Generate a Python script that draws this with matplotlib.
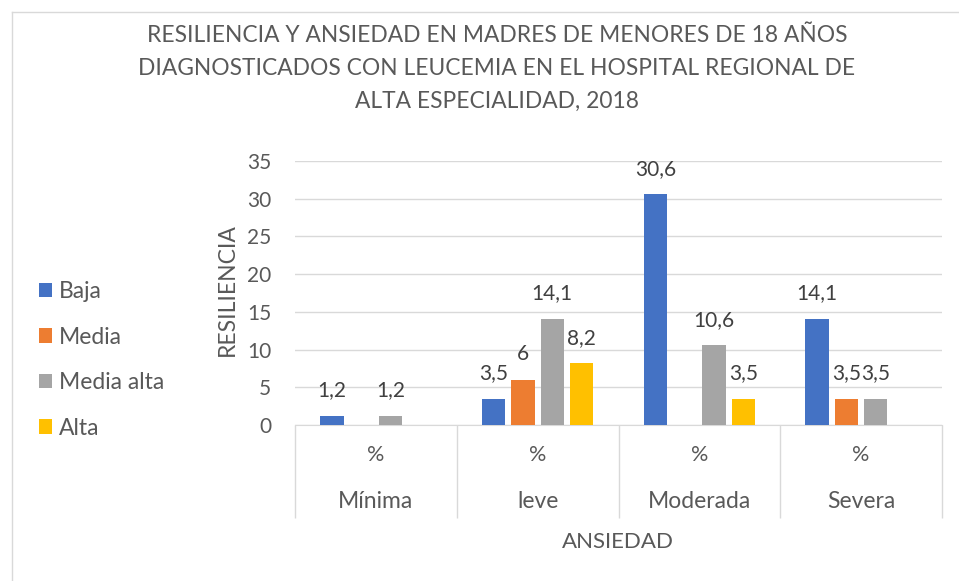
import matplotlib.pyplot as plt
from matplotlib.lines import Line2D
import numpy as np

plt.rcParams['font.family'] = ['Lato', 'DejaVu Sans']

categories = ["Mínima", "leve", "Moderada", "Severa"]
sub_label = "%"
series_names = ["Baja", "Media", "Media alta", "Alta"]
baja = [1.2, 3.5, 30.6, 14.1]
media = [None, 6, None, 3.5]
media_alta = [1.2, 14.1, 10.6, 3.5]
alta = [None, 8.2, 3.5, None]
colors = ["#4472C4", "#ED7D31", "#A5A5A5", "#FFC000"]
y_ticks = [0, 5, 10, 15, 20, 25, 30, 35]

title = ("RESILIENCIA Y ANSIEDAD EN MADRES DE MENORES DE 18 AÑOS\n"
         "DIAGNOSTICADOS CON LEUCEMIA EN EL HOSPITAL REGIONAL DE\n"
         "ALTA ESPECIALIDAD, 2018")

W, H = 959, 581
fig = plt.figure(figsize=(W / 100, H / 100), dpi=100)
ax = fig.add_axes([295 / W, 1 - 425 / H, 647 / W, 264 / H])

text_col = "#595959"
grid_col = "#D9D9D9"

x = np.arange(len(categories))
pitch = 0.181
width = 0.145
handles = []
for i, vals in enumerate([baja, media, media_alta, alta]):
    v = np.array([np.nan if a is None else a for a in vals], dtype=float)
    pos = x + (i - 1.5) * pitch
    bars = ax.bar(pos, np.nan_to_num(v), width, color=colors[i],
                  label=series_names[i], zorder=3)
    handles.append(bars)
    for p, val in zip(pos, v):
        if np.isnan(val):
            continue
        lab = ("%g" % val).replace(".", ",")
        ax.annotate(lab, (p, val), xytext=(0, 14), textcoords="offset points",
                    ha="center", va="baseline", fontsize=15, color="#404040")

ax.set_xlim(-0.5, len(categories) - 0.5)
ax.set_ylim(0, 35)
ax.set_yticks(y_ticks)
ax.yaxis.grid(True, color=grid_col, lw=1, zorder=0)
ax.set_xticks([])
for s in ["top", "right", "left"]:
    ax.spines[s].set_visible(False)
ax.spines["bottom"].set_color(grid_col)
ax.tick_params(axis="y", length=0, pad=17, labelsize=15, labelcolor=text_col)

# category axis table below the plot
trans = ax.get_xaxis_transform()
ax.vlines(np.arange(len(categories) + 1) - 0.5, -93 / 264, 0, transform=trans,
          color=grid_col, lw=1, clip_on=False)
for xi, name in zip(x, categories):
    ax.text(xi, -30 / 264, sub_label, transform=trans, ha="center", va="center",
            fontsize=15.5, color=text_col)
    ax.text(xi, -77 / 264, name, transform=trans, ha="center", va="center",
            fontsize=16.5, color=text_col)

fig.text(618 / W, 1 - 542 / H, "ANSIEDAD", ha="center", va="center",
         fontsize=16, color=text_col)
fig.text(227 / W, 1 - 290 / H, "RESILIENCIA", ha="center", va="center",
         rotation=90, fontsize=16.5, color=text_col)
fig.text(497 / W, 1 - 68.5 / H, title, ha="center", va="center",
         fontsize=16.4, color=text_col, linespacing=1.72)

fig.legend(handles=handles, loc="center left", bbox_to_anchor=(18 / W, 1 - 360 / H),
           frameon=False, fontsize=16.5, handlelength=0.6, handleheight=0.6,
           handletextpad=0.3, labelspacing=1.07, labelcolor=text_col)

# faint sheet frame
fig.add_artist(Line2D([12 / W, 1], [1 - 12 / H, 1 - 12 / H], color=grid_col, lw=1))
fig.add_artist(Line2D([12 / W, 12 / W], [0, 1 - 12 / H], color=grid_col, lw=1))

fig.savefig("out.png", dpi=100)
